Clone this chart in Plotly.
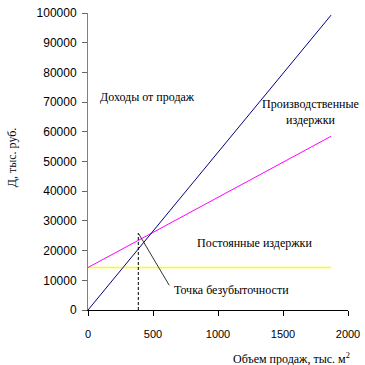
import plotly.graph_objects as go

# Data
quantity = [0, 1870]
revenue = [0, 99300]
production_costs = [14300, 58500]
fixed_costs = [14300, 14300]
breakeven_x = [387, 387]
breakeven_y = [0, 25900]
pointer_x = [387, 625]
pointer_y = [25900, 8300]

x_ticks = [0, 500, 1000, 1500, 2000]
x_tick_labels = ["0", "500", "1000", "1500", "2000"]
y_ticks = [0, 10000, 20000, 30000, 40000, 50000, 60000, 70000, 80000, 90000, 100000]
y_tick_labels = ["0", "10000", "20000", "30000", "40000", "50000", "60000",
                 "70000", "80000", "90000", "100000"]

serif = "Liberation Serif, Times New Roman, serif"
sans = "Liberation Sans, Arial, sans-serif"

fig = go.Figure()
fig.add_trace(go.Scatter(x=quantity, y=fixed_costs, mode="lines",
                         line=dict(color="#FFFF00", width=1.5), hoverinfo="skip"))
fig.add_trace(go.Scatter(x=quantity, y=production_costs, mode="lines",
                         line=dict(color="#FF00FF", width=1), hoverinfo="skip"))
fig.add_trace(go.Scatter(x=quantity, y=revenue, mode="lines",
                         line=dict(color="#000080", width=1), hoverinfo="skip"))
fig.add_trace(go.Scatter(x=breakeven_x, y=breakeven_y, mode="lines",
                         line=dict(color="#000000", width=1, dash="3px,2px"), hoverinfo="skip"))
fig.add_trace(go.Scatter(x=pointer_x, y=pointer_y, mode="lines",
                         line=dict(color="#333333", width=1), hoverinfo="skip"))

ann_font = dict(family=serif, size=12, color="#000000")
fig.add_annotation(x=77, y=71700, text="Доходы от продаж", showarrow=False,
                   xanchor="left", yanchor="middle", font=ann_font)
fig.add_annotation(x=1708, y=66600, text="Производственные<br>издержки", showarrow=False,
                   xanchor="center", yanchor="middle", align="center", font=ann_font)
fig.add_annotation(x=823, y=22400, text="Постоянные издержки", showarrow=False,
                   xanchor="left", yanchor="middle", font=ann_font)
fig.add_annotation(x=646, y=6900, text="Точка безубыточности", showarrow=False,
                   xanchor="left", yanchor="middle", font=ann_font)

# axis titles placed as paper annotations to match the reference positions
fig.add_annotation(xref="paper", yref="paper", x=(291 - 88) / 260, y=-(358 - 309.5) / 296.5,
                   text="Объем продаж, тыс. м<sup>2</sup>", showarrow=False,
                   xanchor="center", yanchor="middle", font=ann_font)
fig.add_annotation(xref="paper", yref="paper", x=(12 - 88) / 260, y=(309.5 - 157) / 296.5,
                   text="Д, тыс. руб.", showarrow=False, textangle=-90,
                   xanchor="center", yanchor="middle", font=ann_font)

fig.update_layout(
    width=365, height=365,
    margin=dict(l=88, r=17, t=13, b=55, autoexpand=False),
    paper_bgcolor="white", plot_bgcolor="white",
    showlegend=False,
    xaxis=dict(range=[0, 2000], tickvals=x_ticks, ticktext=x_tick_labels,
               ticks="outside", ticklen=5, automargin=False, ticklabelstandoff=9,
               tickcolor="#000000", showline=True, linecolor="#000000", linewidth=1,
               showgrid=False, zeroline=False,
               tickfont=dict(family=sans, size=11, color="#000000")),
    yaxis=dict(range=[0, 100000], tickvals=y_ticks, ticktext=y_tick_labels,
               ticks="outside", ticklen=5, automargin=False, ticklabelstandoff=3,
               tickcolor="#666666", showline=True, linecolor="#808080", linewidth=1,
               showgrid=False, zeroline=False,
               tickfont=dict(family=sans, size=12, color="#000000")),
)

fig.write_html("out.html", config={"displayModeBar": False},
               post_script="document.body.style.margin='0px';document.body.style.overflow='hidden';")
